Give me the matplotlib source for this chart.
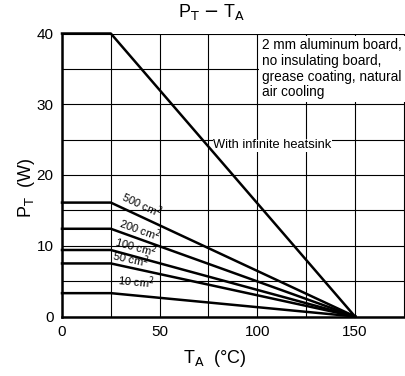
import matplotlib.pyplot as plt
import numpy as np

plt.rcParams['font.family'] = ['Liberation Sans', 'DejaVu Sans']

# derating curves: flat up to 25 C, then linear down to 0 W at 150 C
temps = [0, 25, 150]
labels = ['With infinite heatsink', '500 cm$^2$', '200 cm$^2$', '100 cm$^2$', '50 cm$^2$', '10 cm$^2$']
pmax = [40, 16.1, 12.4, 9.4, 7.5, 3.3]

fig = plt.figure(figsize=(4.06, 3.76), dpi=100)
ax = fig.add_axes([62/406, (376-316.5)/376, (405-62)/406, (316.5-33.5)/376])

ax.set_xlim(0, 175.6)
ax.set_ylim(0, 40)
ax.set_xticks(np.arange(0, 176, 25))
ax.set_yticks(np.arange(0, 41, 5))
ax.set_xticklabels(['0', '', '50', '', '100', '', '150', ''])
ax.set_yticklabels(['0', '', '10', '', '20', '', '30', '', '40'])
ax.grid(True, color='black', lw=0.8)
ax.tick_params(length=0, labelsize=11, pad=6)
for s in ['top', 'right']:
    ax.spines[s].set_visible(False)
for s in ['left', 'bottom']:
    ax.spines[s].set_linewidth(1.8)

for p in pmax:
    ax.plot(temps, [p, p, 0], color='black', lw=1.8, clip_on=False, zorder=3)

# curve labels
ax.text(77.5, 24.2, labels[0], fontsize=9.3, ha='left', va='center',
        bbox=dict(facecolor='white', edgecolor='none', pad=0.5), zorder=2)
label_pos = [(29, 16.0), (28, 12.2), (26, 9.5), (25, 7.6), (28, 4.0)]
for (x, y), lab, p in zip(label_pos, labels[1:], pmax[1:]):
    ang = np.degrees(np.arctan(-p / 125 * 7.075 / 1.953))
    ax.text(x, y, lab, fontsize=8, rotation=ang, rotation_mode='anchor',
            ha='left', va='bottom')

ax.text(102.5, 39.3, '2 mm aluminum board,\nno insulating board,\ngrease coating, natural\nair cooling',
        fontsize=9.8, ha='left', va='top', linespacing=1.15,
        bbox=dict(facecolor='white', edgecolor='none', pad=2), zorder=4)

fig.text(0.52, 0.955, 'P$_\\mathrm{T}$ $-$ T$_\\mathrm{A}$', fontsize=13, ha='center')
fig.text(0.53, 0.035, 'T$_\\mathrm{A}$  (°C)', fontsize=13, ha='center')
fig.text(0.04, 0.5, 'P$_\\mathrm{T}$  (W)', fontsize=13, rotation=90, va='center')

fig.savefig('out.png', dpi=100)
